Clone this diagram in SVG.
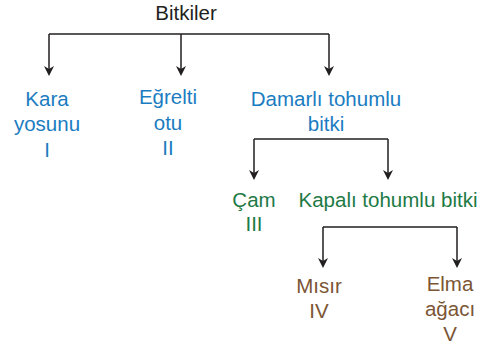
<svg xmlns="http://www.w3.org/2000/svg" width="493" height="348" viewBox="0 0 493 348">
<defs>
<style>
text{font-family:"Liberation Sans",Arial,sans-serif;font-size:20.5px;text-anchor:middle}
.k{fill:#231f20}
.b{fill:#1b7cc1}
.g{fill:#1d7a45}
.r{fill:#7b5534}
.c{fill:none;stroke:#231f20;stroke-width:1.5}
</style>
</defs>
<g id="connectors">
<path class="c" d="M49,34 H329"/>
<path class="c" d="M49,34 V74 M181,34 V74 M329,34 V74"/>
<path class="c" d="M254,139 H388 M254,139 V178 M388,139 V178"/>
<path class="c" d="M323,227 H457 M323,227 V266 M457,227 V266"/>
<g fill="#231f20">
<path d="M44,66 L49,69 L54,66 L49,76 Z"/>
<path d="M176,66 L181,69 L186,66 L181,76 Z"/>
<path d="M324,66 L329,69 L334,66 L329,76 Z"/>
<path d="M249,170 L254,173 L259,170 L254,180 Z"/>
<path d="M383,170 L388,173 L393,170 L388,180 Z"/>
<path d="M318,258 L323,261 L328,258 L323,268 Z"/>
<path d="M452,258 L457,261 L462,258 L457,268 Z"/>
</g>
</g>
<g id="bitkiler"><text class="k" x="186" y="20">Bitkiler</text></g>
<g id="kara"><text class="b" x="47" y="106">Kara</text><text class="b" x="47" y="131">yosunu</text><text class="b" x="47" y="157">I</text></g>
<g id="egrelti"><text class="b" x="168" y="104">Eğrelti</text><text class="b" x="168" y="130">otu</text><text class="b" x="168" y="155">II</text></g>
<g id="damarli"><text class="b" x="326" y="106">Damarlı tohumlu</text><text class="b" x="326" y="131">bitki</text></g>
<g id="cam"><text class="g" x="254" y="207">Çam</text><text class="g" x="254" y="231">III</text></g>
<g id="kapali"><text class="g" x="388" y="207">Kapalı tohumlu bitki</text></g>
<g id="misir"><text class="r" x="319" y="293">Mısır</text><text class="r" x="319" y="318">IV</text></g>
<g id="elma"><text class="r" x="450" y="291">Elma</text><text class="r" x="450" y="316">ağacı</text><text class="r" x="450" y="341">V</text></g>
</svg>
